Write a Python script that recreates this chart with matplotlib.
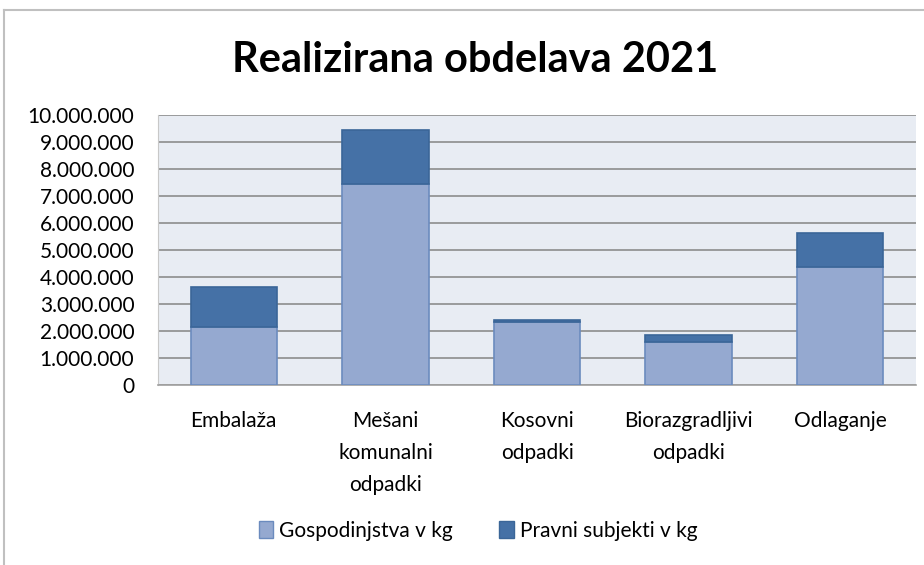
import matplotlib.pyplot as plt
from matplotlib.patches import Patch
from matplotlib.lines import Line2D
from matplotlib.ticker import FuncFormatter

plt.rcParams['font.family'] = ['Lato', 'DejaVu Sans']

categories = ['Embalaža', 'Mešani\nkomunalni\nodpadki', 'Kosovni\nodpadki',
              'Biorazgradljivi\nodpadki', 'Odlaganje']
gospodinjstva = [2160000, 7430000, 2320000, 1600000, 4380000]
pravni = [1480000, 2010000, 90000, 250000, 1260000]
series_names = ['Gospodinjstva v kg', 'Pravni subjekti v kg']

c_light = '#95A9D0'
c_dark = '#4571A6'
edge_light = '#6B8BBE'
edge_dark = '#3B6698'

fig = plt.figure(figsize=(9.24, 5.65), dpi=100)
ax = fig.add_axes([158/924, 1-385/565, 758/924, 270/565])

x = range(len(categories))
ax.bar(x, gospodinjstva, width=0.57, color=c_light, edgecolor=edge_light, linewidth=1.2, zorder=3)
ax.bar(x, pravni, width=0.57, bottom=gospodinjstva, color=c_dark, edgecolor=edge_dark,
       linewidth=1.2, zorder=3)

ax.set_xlim(-0.5, len(categories) - 0.5)
ax.set_ylim(0, 10000000)
ax.set_yticks(range(0, 10000001, 1000000))
ax.yaxis.set_major_formatter(FuncFormatter(lambda v, p: f'{int(v):,}'.replace(',', '.')))
ax.set_facecolor('#E8ECF3')
ax.grid(axis='y', color='#8C8C8C', linewidth=1.2, zorder=1)
for s in ['top', 'right']:
    ax.spines[s].set_visible(False)
ax.spines['left'].set_color('#C8C8C8')
ax.spines['bottom'].set_color('#A0A0A0')
ax.spines['bottom'].set_linewidth(1.2)
ax.tick_params(axis='both', length=0, labelsize=15, colors='black')
ax.tick_params(axis='y', pad=17)
ax.tick_params(axis='x', pad=19)
ax.set_xticks(list(x))
ax.set_xticklabels(categories, linespacing=1.75, va='top')

fig.text(475/924, 1-60/565, 'Realizirana obdelava 2021', ha='center', va='center',
         fontsize=30, fontweight='bold')

handles = [Patch(facecolor=c_light, edgecolor=edge_light), Patch(facecolor=c_dark, edgecolor=edge_dark)]
fig.legend(handles, series_names, loc='center', bbox_to_anchor=(478/924, 1-531/565), ncol=2,
           frameon=False, fontsize=15, handlelength=0.7, handleheight=0.9, handletextpad=0.3,
           columnspacing=2.2)

# chart frame (top and left edges visible)
fig.add_artist(Line2D([4/924, 1], [1-10/565, 1-10/565], color='#C0C0C0', linewidth=1.5))
fig.add_artist(Line2D([4/924, 4/924], [0, 1-10/565], color='#C0C0C0', linewidth=1.5))

fig.savefig('out.png', dpi=100)
